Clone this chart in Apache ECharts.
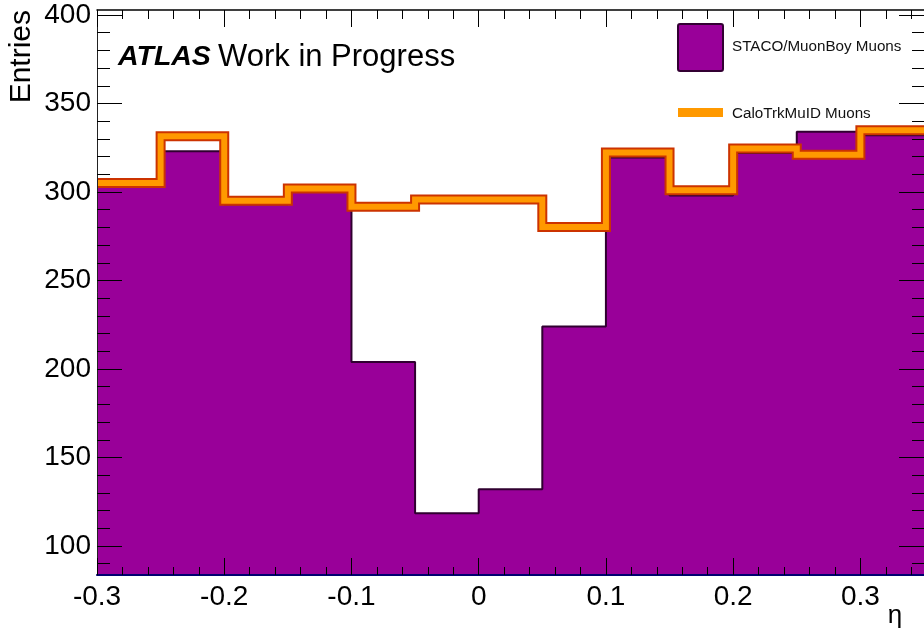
<!DOCTYPE html>
<html>
<head>
<meta charset="utf-8">
<script src="https://cdn.jsdelivr.net/npm/echarts@6/dist/echarts.min.js"></script>
<style>
html,body{margin:0;padding:0;background:#fff;}
#chart{width:924px;height:629px;}
</style>
</head>
<body>
<div id="chart"></div>
<script>
// Bin edges in eta (width 0.05)
var binEdges = [-0.3, -0.25, -0.2, -0.15, -0.1, -0.05, 0, 0.05, 0.1, 0.15, 0.2, 0.25, 0.3, 0.35];
// STACO/MuonBoy Muons entries per bin
var stacoValues = [303, 323, 293, 300, 204, 118.5, 132, 224, 319.5, 298, 322, 334, 332];
// CaloTrkMuID Muons entries per bin
var caloValues = [305, 331.5, 295, 302, 291.7, 295.7, 295.7, 280.2, 322.3, 301, 324.6, 321, 334.8];
// Tick labels / tick positions
var xMajorTicks = [-0.3, -0.2, -0.1, 0, 0.1, 0.2, 0.3];
var xMinorTicks = [-0.3,-0.28,-0.26,-0.24,-0.22,-0.2,-0.18,-0.16,-0.14,-0.12,-0.1,-0.08,-0.06,-0.04,-0.02,0,0.02,0.04,0.06,0.08,0.1,0.12,0.14,0.16,0.18,0.2,0.22,0.24,0.26,0.28,0.3,0.32,0.34];
var yMajorTicks = [100, 150, 200, 250, 300, 350, 400];
var yMinorTicks = [90,100,110,120,130,140,150,160,170,180,190,200,210,220,230,240,250,260,270,280,290,300,310,320,330,340,350,360,370,380,390,400];

var X_MIN = -0.3, X_MAX = 0.35, Y_MIN = 83.6, Y_MAX = 402.8;
var FONT = '"Liberation Sans", Arial, Helvetica, sans-serif';

function histData(vals) {
  var d = [];
  for (var i = 0; i < vals.length; i++) d.push([binEdges[i], vals[i]]);
  d.push([binEdges[vals.length], vals[vals.length - 1]]);
  return d;
}

function xAx(pos, ticks, len, showLabel, lineStyle) {
  return {
    type: 'value', position: pos, min: X_MIN, max: X_MAX, z: 10,
    axisLine: lineStyle ? {show: true, onZero: false, lineStyle: lineStyle} : {show: false, onZero: false},
    axisTick: {show: true, inside: true, length: len, customValues: ticks, lineStyle: {color: '#000', width: 1}},
    axisLabel: showLabel ? {show: true, customValues: ticks, margin: 8, color: '#000', fontSize: 28, fontFamily: FONT,
      formatter: function (v) { var r = Math.round(v * 10) / 10; return r === 0 ? '0' : String(r); }} : {show: false},
    splitLine: {show: false}
  };
}
function yAx(pos, ticks, len, showLabel, lineStyle) {
  return {
    type: 'value', position: pos, min: Y_MIN, max: Y_MAX, z: 10,
    axisLine: lineStyle ? {show: true, onZero: false, lineStyle: lineStyle} : {show: false, onZero: false},
    axisTick: {show: true, inside: true, length: len, customValues: ticks, lineStyle: {color: '#000', width: 1}},
    axisLabel: showLabel ? {show: true, customValues: ticks, margin: 6, color: '#000', fontSize: 28, fontFamily: FONT,
      formatter: function (v) { return String(Math.round(v)); }} : {show: false},
    splitLine: {show: false}
  };
}

var chart = echarts.init(document.getElementById('chart'), null, {renderer: 'canvas'});
var option = {
  animation: false,
  backgroundColor: '#fff',
  grid: {left: 97, top: 10, width: 831, height: 565, containLabel: false},
  xAxis: [
    xAx('bottom', xMajorTicks, 17, true, {color: '#000070', width: 2}),
    xAx('bottom', xMinorTicks, 8, false, null),
    xAx('top', xMajorTicks, 17, false, {color: '#000', width: 1.5}),
    xAx('top', xMinorTicks, 9, false, null)
  ],
  yAxis: [
    yAx('left', yMajorTicks, 25, true, {color: '#222', width: 1}),
    yAx('left', yMinorTicks, 13, false, null),
    yAx('right', yMajorTicks, 25, false, {color: '#000', width: 1}),
    yAx('right', yMinorTicks, 12, false, null)
  ],
  series: [
    {
      name: 'STACO/MuonBoy Muons', type: 'line', step: 'end', data: histData(stacoValues),
      showSymbol: false, symbol: 'none', clip: true, z: 2,
      lineStyle: {color: '#300030', width: 2},
      areaStyle: {color: '#990099', opacity: 1, origin: 'start'}
    },
    {
      name: 'CaloTrkMuID Muons border', type: 'line', step: 'end', data: histData(caloValues),
      showSymbol: false, symbol: 'none', clip: true, z: 3,
      lineStyle: {color: '#cc3300', width: 10, join: 'miter', cap: 'butt'}
    },
    {
      name: 'CaloTrkMuID Muons', type: 'line', step: 'end', data: histData(caloValues),
      showSymbol: false, symbol: 'none', clip: true, z: 4,
      lineStyle: {color: '#ff9900', width: 6, join: 'miter', cap: 'butt'}
    }
  ],
  graphic: [
    {type: 'text', x: 118, y: 57, z: 20, style: {
      text: 'ATLAS', fontSize: 28.5, fontWeight: 'bold', fontStyle: 'italic', fontFamily: FONT, fill: '#000',
      verticalAlign: 'middle'
    }},
    {type: 'text', x: 218, y: 57, z: 20, style: {
      text: 'Work in Progress', fontSize: 31, fontFamily: FONT, fill: '#000', verticalAlign: 'middle'
    }},
    {type: 'text', x: 37, y: 10, rotation: Math.PI / 2, z: 20, style: {
      text: 'Entries', fontSize: 30, fontFamily: FONT, fill: '#000', align: 'right', verticalAlign: 'bottom'
    }},
    {type: 'text', x: 895, y: 603, z: 20, style: {
      text: 'η', fontSize: 26, fontFamily: FONT, fill: '#000', align: 'center', verticalAlign: 'top'
    }},
    {type: 'rect', shape: {x: 678, y: 24, width: 45, height: 47, r: 2}, z: 20,
      style: {fill: '#990099', stroke: '#330033', lineWidth: 2}},
    {type: 'text', x: 732, y: 47, z: 20, style: {
      text: 'STACO/MuonBoy Muons', fontSize: 15.2, fontFamily: FONT, fill: '#111', verticalAlign: 'middle'
    }},
    {type: 'rect', shape: {x: 678, y: 108, width: 45, height: 9}, z: 20,
      style: {fill: '#ff9900'}},
    {type: 'text', x: 732, y: 114, z: 20, style: {
      text: 'CaloTrkMuID Muons', fontSize: 15.2, fontFamily: FONT, fill: '#111', verticalAlign: 'middle'
    }}
  ]
};
chart.setOption(option);
</script>
</body>
</html>
